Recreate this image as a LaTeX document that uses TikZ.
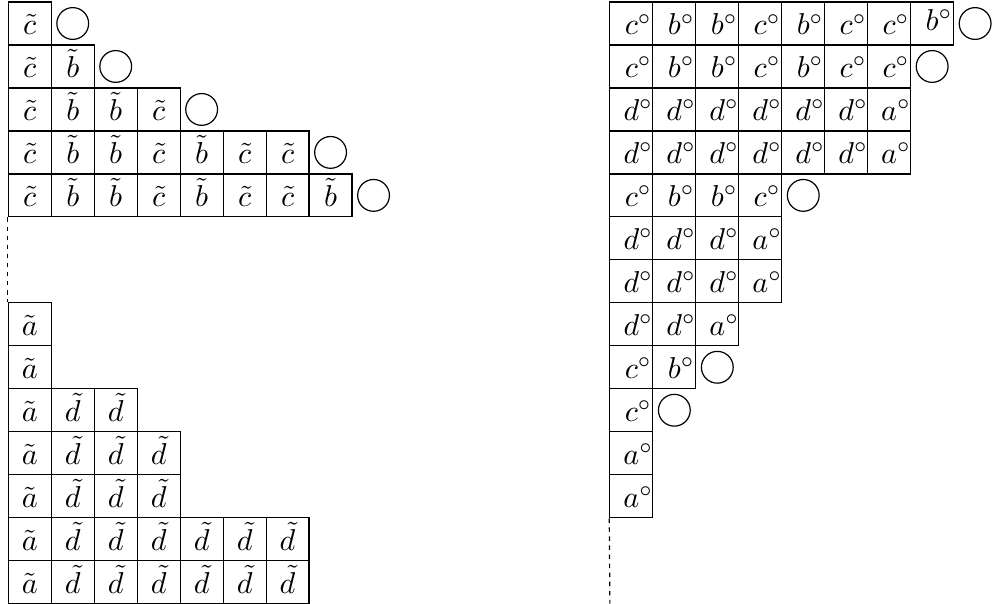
\documentclass[tikz,border=0pt]{standalone}
\begin{document}
\begin{tikzpicture}[x=0.5cm,y=0.5cm]
\tikzset{
  cellbox/.style={draw, line width=0.4pt, minimum size=0.5cm, inner sep=0pt, text height=7.6pt, text depth=0pt},
  raisedbox/.style={cellbox, text height=4.3pt},
  hole/.style={draw, line width=0.4pt, circle, minimum size=0.37cm, inner sep=0pt},
  gapline/.style={line width=0.4pt, dash pattern=on 1.5pt off 1.5pt}
}
\useasboundingbox (-0.193,0.047) rectangle (22.893,-14.009);
% upper left block
\foreach \r/\n/\lst in {1/1/{c},2/2/{c,b},3/4/{c,b,b,c},4/7/{c,b,b,c,b,c,c},5/8/{c,b,b,c,b,c,c,b}}{
  \foreach \ch [count=\c] in \lst {
    \node[cellbox] (L\r-\c) at (\c-0.5,0.5-\r) {$\tilde{\ch}$};
  }
  \node[hole] (LC\r) at (\n+0.5,0.5-\r) {};
}
% lower left block
\foreach \r/\lst in {8/{a},9/{a},10/{a,d,d},11/{a,d,d,d},12/{a,d,d,d},13/{a,d,d,d,d,d,d},14/{a,d,d,d,d,d,d}}{
  \foreach \ch [count=\c] in \lst {
    \node[cellbox] (L\r-\c) at (\c-0.5,0.5-\r) {$\tilde{\ch}$};
  }
}
% right block
\foreach \r/\lst in {1/{c,b,b,c,b,c,c},2/{c,b,b,c,b,c,c},3/{d,d,d,d,d,d,a},4/{d,d,d,d,d,d,a},5/{c,b,b,c},6/{d,d,d,a},7/{d,d,d,a},8/{d,d,a},9/{c,b},10/{c},11/{a},12/{a}}{
  \foreach \ch [count=\c] in \lst {
    \node[cellbox] (R\r-\c) at (13.5+\c,0.5-\r) {$\ch\rlap{$^{\circ}$}$};
  }
}
\node[raisedbox] (R1-8) at (21.5,-0.5) {$b\rlap{$^{\circ}$}$};
\foreach \r/\n in {1/8,2/7,5/4,9/2,10/1}{
  \node[hole] (RC\r) at (14.5+\n,0.5-\r) {};
}
% dashed connectors
\draw[gapline] (L5-1.south west) -- (L8-1.north west);
\coordinate (Rend) at (14,-14);
\draw[gapline] (R12-1.south west) -- (Rend);
\end{tikzpicture}
\end{document}
